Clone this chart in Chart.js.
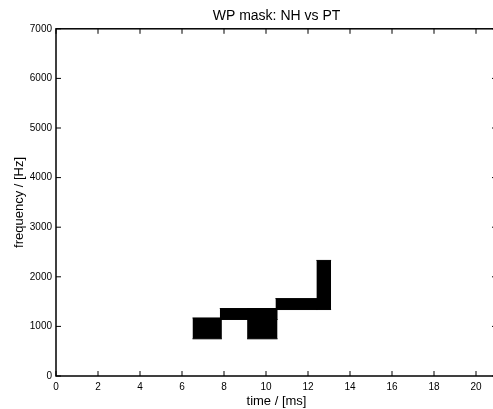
<!DOCTYPE html>
<html>
<head>
<meta charset="utf-8">
<script src="https://cdn.jsdelivr.net/npm/chart.js@4/dist/chart.umd.min.js"></script>
<style>
  html, body { margin: 0; padding: 0; background: #fff; overflow: hidden; }
  #wrap { width: 500px; height: 409px; }
</style>
</head>
<body>
<div id="wrap"><canvas id="mask" width="500" height="409"></canvas></div>
<script>
// WP mask cells: time span (ms) and frequency band (Hz)
const cellStart = [6.5, 7.8, 9.1, 10.45, 12.4];
const cellEnd   = [7.9, 10.55, 10.55, 12.45, 13.1];
const bandLow   = [750, 1140, 750, 1340, 1340];
const bandHigh  = [1170, 1360, 1360, 1560, 2330];

const xTicks = [0, 2, 4, 6, 8, 10, 12, 14, 16, 18, 20];
const yTicks = [0, 1000, 2000, 3000, 4000, 5000, 6000, 7000];

const FONT = '"Liberation Sans", Arial, Helvetica, sans-serif';

// each cell = top edge + bottom edge filled between them
const datasets = [];
cellStart.forEach((t0, i) => {
  const t1 = cellEnd[i];
  datasets.push({
    data: [{ x: t0, y: bandHigh[i] }, { x: t1, y: bandHigh[i] }],
    borderColor: '#000', borderWidth: 1, pointRadius: 0, fill: false,
  });
  datasets.push({
    data: [{ x: t0, y: bandLow[i] }, { x: t1, y: bandLow[i] }],
    borderColor: '#000', borderWidth: 1, pointRadius: 0,
    fill: '-1', backgroundColor: '#000',
  });
});

// matlab-ish box with inward ticks on all four sides
const boxTicks = {
  id: 'boxTicks',
  afterDraw(chart) {
    const { ctx, chartArea: a, scales } = chart;
    const len = 5;
    ctx.save();
    ctx.strokeStyle = '#000';
    ctx.lineWidth = 1.5;
    ctx.strokeRect(a.left, a.top, a.right - a.left, a.bottom - a.top);
    ctx.lineWidth = 1;
    ctx.beginPath();
    xTicks.forEach((v) => {
      const px = scales.x.getPixelForValue(v);
      ctx.moveTo(px, a.bottom); ctx.lineTo(px, a.bottom - len);
      ctx.moveTo(px, a.top); ctx.lineTo(px, a.top + len);
    });
    yTicks.forEach((v) => {
      const py = scales.y.getPixelForValue(v);
      ctx.moveTo(a.left, py); ctx.lineTo(a.left + len, py);
      ctx.moveTo(a.right, py); ctx.lineTo(a.right - len, py);
    });
    ctx.stroke();
    ctx.restore();
  },
};

new Chart(document.getElementById('mask'), {
  type: 'line',
  data: { datasets },
  plugins: [boxTicks],
  options: {
    responsive: false,
    animation: false,
    layout: { padding: { left: 0, right: 3, top: 0, bottom: 0 } },
    plugins: {
      legend: { display: false },
      tooltip: { enabled: false },
      title: {
        display: true,
        fullSize: false,
        text: 'WP mask: NH vs PT',
        color: '#000',
        font: { family: FONT, size: 14, weight: 'normal' },
        padding: { top: 8, bottom: 4 },
      },
    },
    scales: {
      x: {
        type: 'linear',
        min: 0, max: 21,
        afterBuildTicks: (s) => { s.ticks = xTicks.map((v) => ({ value: v })); },
        afterFit: (s) => { s.height = 33; },
        grid: { drawOnChartArea: false, drawTicks: false },
        border: { display: false },
        ticks: {
          color: '#000', padding: 5, maxRotation: 0,
          font: { family: FONT, size: 10 },
          callback: (v) => String(v),
        },
        title: {
          display: true, text: 'time / [ms]', color: '#000',
          font: { family: FONT, size: 13 }, padding: { top: 1, bottom: 0 },
        },
      },
      y: {
        type: 'linear',
        min: 0, max: 7000,
        afterBuildTicks: (s) => { s.ticks = yTicks.map((v) => ({ value: v })); },
        afterFit: (s) => { s.width = 56; },
        grid: { drawOnChartArea: false, drawTicks: false },
        border: { display: false },
        ticks: {
          color: '#000', padding: 4,
          font: { family: FONT, size: 10 },
          callback: (v) => String(v),
        },
        title: {
          display: true, text: 'frequency / [Hz]', color: '#000',
          font: { family: FONT, size: 13 }, padding: { top: 12, bottom: 0 },
        },
      },
    },
  },
});
</script>
</body>
</html>
